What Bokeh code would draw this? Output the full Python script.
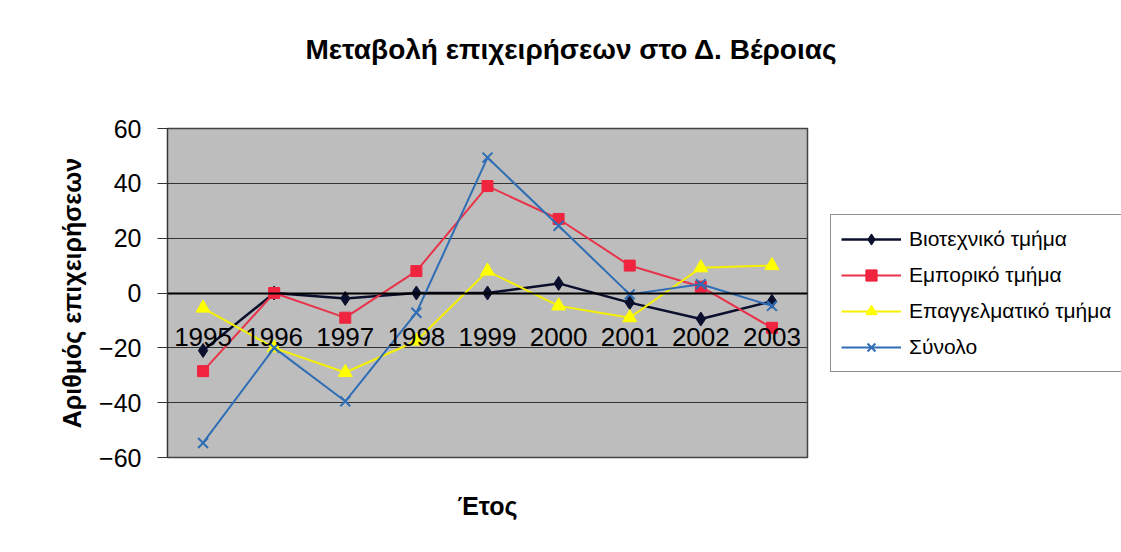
from bokeh.plotting import figure
from bokeh.models import Legend, LegendItem, Title, FixedTicker, ColumnDataSource
from bokeh.embed import file_html
from bokeh.resources import INLINE

years = ["1995", "1996", "1997", "1998", "1999", "2000", "2001", "2002", "2003"]
viotechniko = [-21, 0, -2, 0, 0, 3.5, -3.5, -9.5, -3]
emporiko = [-28.5, 0, -9, 8, 39, 27, 10, 2.3, -12.7]
epaggelmatiko = [-5.5, -20, -29, -17.5, 8, -4.7, -9, 9.2, 10]
synolo = [-54.7, -20, -39.5, -7.2, 49.4, 24.5, -0.5, 3.2, -4.7]
series_names = ["Βιοτεχνικό τμήμα", "Εμπορικό τμήμα", "Επαγγελματικό τμήμα", "Σύνολο"]
y_ticks = [-60, -40, -20, 0, 20, 40, 60]
title_text = "Μεταβολή επιχειρήσεων στο Δ. Βέροιας"
x_title = "Έτος"
y_title = "Αριθμός επιχειρήσεων"

FONT = "Liberation Sans"

p = figure(
    x_range=years, y_range=(-60, 60), title=None,
    frame_width=640, frame_height=329,
    output_backend="svg", toolbar_location=None,
    min_border_left=167, min_border_right=314,
    min_border_top=128, min_border_bottom=95,
)
p.background_fill_color = "#bdbdbd"
p.border_fill_color = "white"
p.outline_line_color = "#444444"
p.outline_line_width = 1.5

# Titles: spacer first (closest to frame), then the real title
p.add_layout(Title(text=" ", text_font=FONT, text_font_size="10px", standoff=46), "above")
p.add_layout(Title(text=title_text, align="left", offset=138,
                   text_font=FONT, text_font_size="28px", text_font_style="bold",
                   text_color="black", standoff=10), "above")
p.add_layout(Title(text=" ", text_font=FONT, text_font_size="10px", standoff=14), "below")
p.add_layout(Title(text=x_title, align="center",
                   text_font=FONT, text_font_size="25px", text_font_style="bold",
                   text_color="black", standoff=10), "below")

# Y axis
p.yaxis.ticker = FixedTicker(ticks=y_ticks)
p.yaxis.major_label_text_font = FONT
p.yaxis.major_label_text_font_size = "25px"
p.yaxis.major_label_text_color = "black"
p.yaxis.major_label_standoff = 16
p.yaxis.axis_label = y_title
p.yaxis.axis_label_text_font = FONT
p.yaxis.axis_label_text_font_size = "25px"
p.yaxis.axis_label_text_font_style = "bold"
p.yaxis.axis_label_text_color = "black"
p.yaxis.axis_label_standoff = 10
p.yaxis.minor_tick_line_color = None
p.yaxis.major_tick_out = 10
p.yaxis.major_tick_in = 0
p.yaxis.axis_line_color = "#333333"
p.yaxis.major_tick_line_color = "#333333"

# X axis at zero
p.xaxis.fixed_location = 0
p.xaxis.major_label_text_font = FONT
p.xaxis.major_label_text_font_size = "26px"
p.xaxis.major_label_text_color = "black"
p.xaxis.major_tick_line_color = None
p.xaxis.axis_line_color = "black"
p.xaxis.axis_line_width = 2
p.xaxis.major_label_standoff = 29

# Grid
p.xgrid.grid_line_color = None
p.ygrid.ticker = FixedTicker(ticks=y_ticks)
p.ygrid.grid_line_color = "#333333"
p.ygrid.grid_line_width = 1

src = ColumnDataSource(dict(x=years, a=viotechniko, b=emporiko, c=epaggelmatiko, d=synolo))

l1 = p.line("x", "a", source=src, line_color="#0b0f2e", line_width=2.5)
m1 = p.scatter("x", "a", source=src, marker="diamond", size=14, fill_color="#0b0f2e", line_color="#0b0f2e")
l2 = p.line("x", "b", source=src, line_color="#e8334a", line_width=2)
m2 = p.scatter("x", "b", source=src, marker="square", size=11, fill_color="#f0243f", line_color="#f0243f")
l3 = p.line("x", "c", source=src, line_color="#f5f000", line_width=2)
m3 = p.scatter("x", "c", source=src, marker="triangle", size=14, fill_color="#ffff00", line_color="#ffff00")
l4 = p.line("x", "d", source=src, line_color="#2f6db5", line_width=2)
m4 = p.scatter("x", "d", source=src, marker="x", size=14, line_color="#2f6db5", line_width=2)

legend = Legend(items=[
    LegendItem(label=series_names[0], renderers=[l1, m1]),
    LegendItem(label=series_names[1], renderers=[l2, m2]),
    LegendItem(label=series_names[2], renderers=[l3, m3]),
    LegendItem(label=series_names[3], renderers=[l4, m4]),
], location="center_left")
legend.label_text_font = FONT
legend.label_text_font_size = "21px"
legend.label_text_color = "black"
legend.glyph_width = 60
legend.glyph_height = 28
legend.label_height = 28
legend.spacing = 8
legend.padding = 10
legend.margin = 23
legend.label_standoff = 8
legend.border_line_color = "#222222"
legend.border_line_width = 1
legend.background_fill_color = "white"
p.add_layout(legend, "right")

open("out.html", "w").write(file_html(p, INLINE))
